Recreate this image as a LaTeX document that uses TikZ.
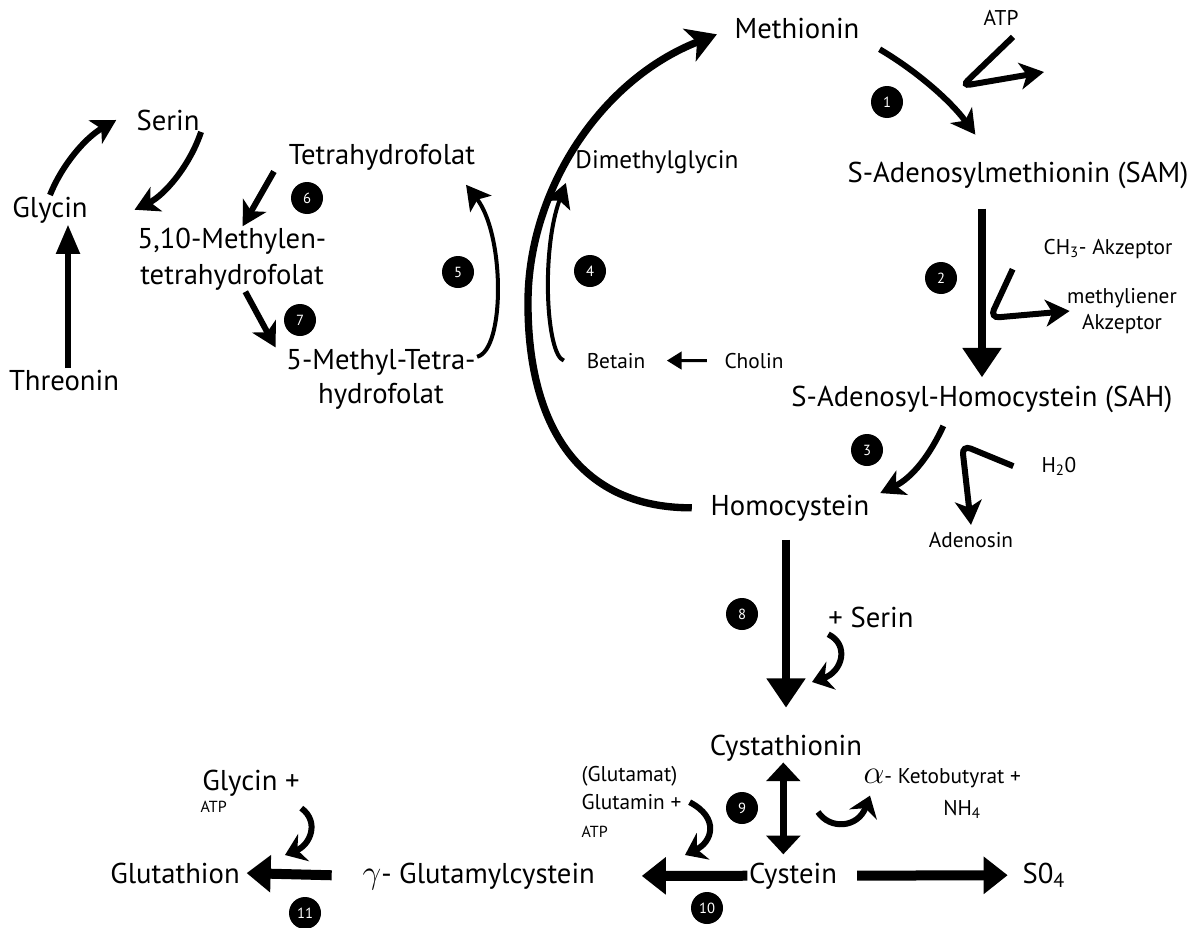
\documentclass[tikz,border=0pt]{standalone}
\usepackage{fontspec}
\setmainfont{PT Sans}
\usepackage{tikz}
\usetikzlibrary{arrows.meta,positioning}

\begin{document}
\begin{tikzpicture}[x=0.75pt, y=-0.75pt,
    met/.style={inner sep=1pt, font=\fontsize{21.5}{27}\selectfont, align=center},
    metb/.style={met, anchor=base},
    side/.style={inner sep=1pt, font=\fontsize{16}{20}\selectfont, align=center},
    sideb/.style={side, anchor=base},
    enz/.style={circle, fill=black, text=white, minimum size=24pt, inner sep=0pt, font=\fontsize{11}{12}\selectfont},
    rxn/.style={line width=4.5pt, -{Stealth[length=18pt, width=20pt, inset=5pt]}},
    hook/.style={line width=4.5pt, -{Stealth[length=15pt, width=22pt, inset=5pt]}},
    loop/.style={line width=3pt, -{Stealth[length=18pt, width=20pt, inset=4pt]}},
    main/.style={line width=6pt, -{Triangle[length=22pt, width=28pt]}},
    flat/.style={line width=7.5pt, -{Triangle[length=18pt, width=27pt]}},
    small/.style={line width=2.2pt, -{Triangle[length=11pt, width=13pt]}},
]
    \useasboundingbox (0,0) rectangle (1204,928);

    \node[metb] (met) at (797,38) {Methionin};
    \node[sideb] (atp) at (1001,26) {ATP};
    \node[enz] (n1) at (887,102) {1};
    \node[metb] (sam) at (1018,182) {S-Adenosylmethionin (SAM)};
    \node[metb] (ser) at (168,130) {Serin};
    \node[metb] (gly) at (50,217) {Glycin};
    \node[metb] (thr) at (64,390) {Threonin};
    \node[metb] (thf) at (382,164) {Tetrahydrofolat};
    \node[metb, font=\fontsize{19}{24}\selectfont] (dmg) at (657,168) {Dimethylglycin};
    \node[met] (mthf) at (232,259) {5,10-Methylen-\\tetrahydrofolat};
    \node[met, font=\fontsize{21.5}{25.5}\selectfont] (mtf) at (381,379) {5-Methyl-Tetra-\\hydrofolat};
    \node[enz] (n6) at (307,198) {6};
    \node[enz] (n7) at (300,320) {7};
    \node[enz] (n5) at (458,272) {5};
    \node[enz] (n4) at (590,271) {4};
    \node[sideb] (bet) at (616,368) {Betain};
    \node[sideb] (cho) at (754,368) {Cholin};
    \node[enz] (n2) at (941,278) {2};
    \node[sideb, anchor=base west] (ch3) at (1042,254) {CH\textsubscript{3}- Akzeptor};
    \node[side] (mak) at (1122,311) {methyliener\\Akzeptor};
    \node[metb] (sah) at (982,406) {S-Adenosyl-Homocystein (SAH)};
    \node[enz] (n3) at (867,450) {3};
    \node[sideb, anchor=base west] (h2o) at (1040,472) {H\textsubscript{2}0};
    \node[metb] (hom) at (790,515) {Homocystein};
    \node[sideb] (ade) at (971,547) {Adenosin};
    \node[enz] (n8) at (742,614) {8};
    \node[metb] (pser) at (871,627) {+ Serin};
    \node[metb] (cst) at (786,755) {Cystathionin};
    \node[sideb, anchor=base west] (akb) at (862,783) {{\fontsize{30}{30}\selectfont$\alpha$}- Ketobutyrat +};
    \node[sideb] (nh4) at (962,815) {NH\textsubscript{4}};
    \node[side, align=left, anchor=north west, font=\fontsize{16}{21}\selectfont] (glt) at (580,765) {(Glutamat)\\Glutamin +\\{\fontsize{12}{14}\selectfont ATP}};
    \node[enz] (n9) at (742,808) {9};
    \node[metb] (cyn) at (793,883) {Cystein};
    \node[metb, anchor=base west] (so4) at (1021,883) {S0\textsubscript{4}};
    \node[enz] (n10) at (707,908) {10};
    \node[metb, anchor=base west] (gam) at (361,883) {{\fontsize{32}{32}\selectfont$\gamma$}- Glutamylcystein};
    \node[metb] (glu) at (175,883) {Glutathion};
    \node[metb] (glp) at (251,790) {Glycin +};
    \node[inner sep=1pt, anchor=base west, font=\fontsize{12}{14}\selectfont] (atp2) at (199,812) {ATP};
    \node[enz] (n11) at (305,913) {11};

    \coordinate (atpout) at (1044,72);
    \coordinate (serin) at (812,682);
    \coordinate (ketob) at (818,812);
    \coordinate (glutin) at (685,855);
    \coordinate (glyin) at (285,855);

    \draw[main, -{Triangle[length=22pt, width=17pt]}, line width=4.5pt] ([xshift=3pt]thr.north) -- ([xshift=3pt]thr.north |- gly.south);
    \draw[rxn] (gly.north) .. controls (62,165) and (85,138) .. ([xshift=-14pt]ser.west);
    \draw[rxn] (ser.south east) .. controls (190,165) and (165,195) .. ([xshift=34pt]gly.east);
    \draw[rxn] ([xshift=-10pt]thf.south west) -- ([xshift=8pt]mthf.north);
    \draw[rxn] ([xshift=10pt]mthf.south) -- ([xshift=-7pt]mtf.north west);
    \draw[loop] ([yshift=-7pt]mtf.north east) .. controls (505,350) and (505,235) .. ([xshift=-8pt, yshift=-10pt]thf.south east);
    \draw[loop] ([xshift=-16pt]bet.west) .. controls (546,355) and (541,250) .. ([xshift=-6pt, yshift=-6pt]dmg.south west);
    \draw[small, shorten <=12pt, shorten >=15pt] (cho.west) -- (bet.east);
    \draw[line width=5.5pt, -{Stealth[length=22pt, width=26pt, inset=6pt]}, shorten <=13pt, shorten >=13pt]
        (hom.west) .. controls (575,508) and (527,420) .. (528,300) .. controls (529,190) and (600,80) .. (met.west);
    \draw[rxn] ([xshift=14pt, yshift=-7pt]met.south east) .. controls (915,70) and (950,100) .. ([xshift=-32pt, yshift=19pt]sam.north);
    \draw[rxn, rounded corners=6pt] ([xshift=9pt, yshift=-7pt]atp.south) -- (962,86) -- (atpout);
    \draw[main, shorten <=14pt, shorten >=5pt] (sam.south -| sah.north) -- (sah.north);
    \draw[rxn, rounded corners=7pt] ([xshift=-22pt, yshift=-7pt]ch3.south west) -- (990,318) -- ([xshift=3pt]mak.west);
    \draw[rxn] ([xshift=-29pt, yshift=-9pt]sah.south) .. controls (930,455) and (912,478) .. ([xshift=7pt]hom.north east);
    \draw[rxn, rounded corners=7pt] ([xshift=-20pt]h2o.west) -- (962,445) -- ([yshift=4pt]ade.north);
    \draw[main, shorten <=13pt, shorten >=19pt] (hom.south -| cst.north) -- (cst.north);
    \draw[hook] ([xshift=1pt, yshift=-4pt]pser.south west) .. controls (850,645) and (842,672) .. (serin);
    \draw[line width=5pt, {Triangle[length=14pt, width=25pt]}-{Triangle[length=14pt, width=25pt]}, shorten >=5pt]
        ([xshift=-2pt]cst.south) -- ([xshift=-2pt]cst.south |- cyn.north);
    \draw[hook] (ketob) .. controls (830,830) and (858,828) .. ([xshift=6pt, yshift=-5pt]akb.south west);
    \draw[hook] ([xshift=5pt]glt.east) .. controls (720,818) and (712,842) .. (glutin);
    \draw[flat, shorten >=34pt] (cyn.west) -- (gam.east);
    \draw[flat, shorten <=14pt, shorten >=10pt] (cyn.east) -- (so4.west);
    \draw[flat, shorten <=22pt, shorten >=4pt] (gam.west) -- (glu.east);
    \draw[hook] ([yshift=-8pt]glp.south east) .. controls (320,822) and (310,845) .. (glyin);
\end{tikzpicture}
\end{document}
